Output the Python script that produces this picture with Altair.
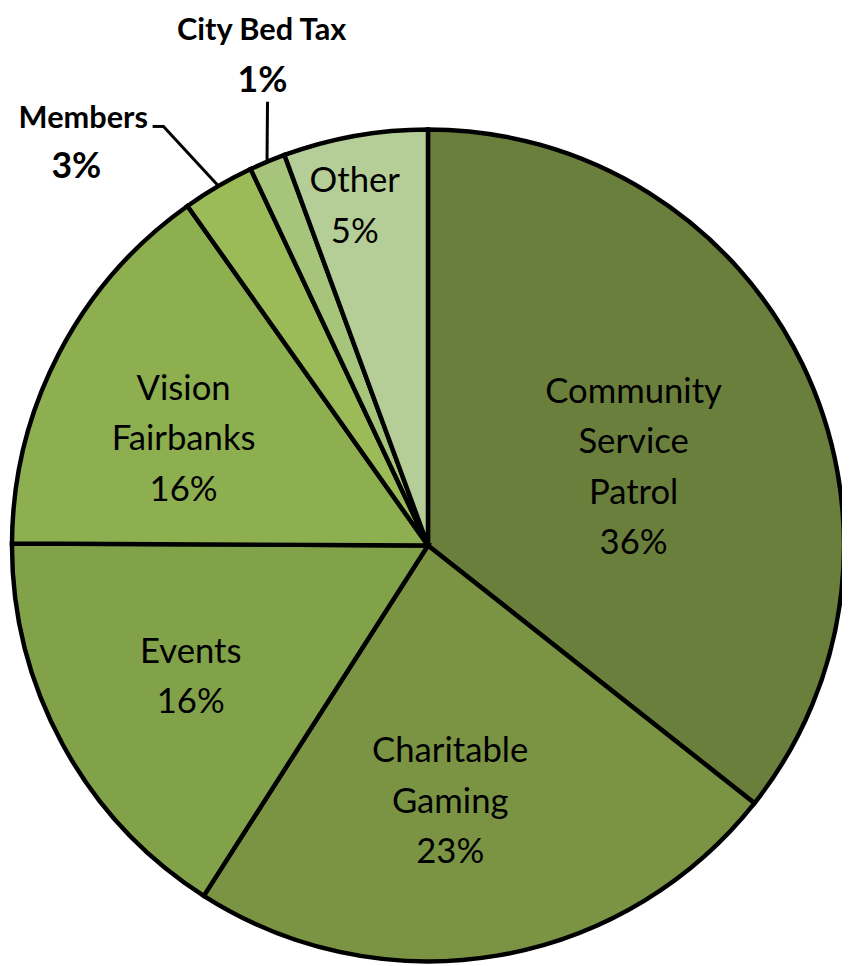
import altair as alt
import pandas as pd

categories = ["Community Service Patrol", "Charitable Gaming", "Events",
              "Vision Fairbanks", "Members", "City Bed Tax", "Other"]
values = [35.6, 23.4, 16.0, 15.1, 2.8, 1.4, 5.6]
pct_labels = ["36%", "23%", "16%", "16%", "3%", "1%", "5%"]
text_labels = ["Community\nService\nPatrol", "Charitable\nGaming", "Events",
               "Vision\nFairbanks", "Members", "City Bed Tax", "Other"]
colors = ["#6b7f3c", "#7a9444", "#82a24a", "#8daf50", "#9bbb59", "#a7c57a", "#b5cd97"]

df = pd.DataFrame({
    "idx": list(range(len(categories))),
    "cat": categories,
    "value": values,
    "label": [t + "\n" + p for t, p in zip(text_labels, pct_labels)],
})

CX, CY, R = 424, 538, 420
FONT = "Lato"
LH = 51

# label placement (radius in px, angle tweak in degrees) for inside labels
inside = {
    "Community Service Patrol": (222, 5.1),
    "Charitable Gaming": (260, 4.6),
    "Events": (274, -0.5),
    "Vision Fairbanks": (269, -4.0),
    "Other": (350, -2.1),
}


def tern(mapping, idx, default):
    expr = str(default)
    for k, v in mapping.items():
        expr = f"datum.cat === '{k}' ? {v[idx]} : ({expr})"
    return expr


base = (
    alt.Chart(df)
    .transform_window(cum="sum(value)", sort=[alt.SortField("idx")], frame=[None, 0])
    .transform_joinaggregate(total="sum(value)")
    .transform_calculate(mid="(datum.cum - datum.value/2)/datum.total*2*PI")
)

pie = alt.Chart(df).mark_arc(outerRadius=R, stroke="black", strokeWidth=4.5).encode(
    theta=alt.Theta("value:Q", stack=True),
    order=alt.Order("idx:Q"),
    color=alt.Color("cat:N", scale=alt.Scale(domain=categories, range=colors), legend=None),
    x=alt.value(CX),
    y=alt.value(CY),
)

inner = (
    base.transform_filter(alt.FieldOneOfPredicate(field="cat", oneOf=list(inside.keys())))
    .transform_calculate(
        r=tern(inside, 0, 250),
        ang="datum.mid + (" + tern(inside, 1, 0) + ")*PI/180",
        n="length(split(datum.label, '\\n'))",
    )
    .transform_calculate(
        px=f"{CX} + datum.r*sin(datum.ang)",
        py=f"{CY} - datum.r*cos(datum.ang) - (datum.n - 1)/2*{LH}",
    )
    .mark_text(font=FONT, fontSize=35, lineBreak="\n", lineHeight=LH,
               align="center", baseline="middle", color="black")
    .encode(x=alt.X("px:Q", scale=None), y=alt.Y("py:Q", scale=None), text="label:N")
)

arcpt = base.transform_calculate(
    px=f"{CX} + {R + 1}*sin(datum.mid)",
    py=f"{CY} - {R + 1}*cos(datum.mid)",
)

members_line = arcpt.transform_filter(alt.datum.cat == "Members").mark_rule(
    color="black", strokeWidth=3).encode(
    x=alt.X("px:Q", scale=None), y=alt.Y("py:Q", scale=None),
    x2=alt.value(157), y2=alt.value(115))
members_tick = arcpt.transform_filter(alt.datum.cat == "Members").mark_rule(
    color="black", strokeWidth=3).encode(
    x=alt.value(146), x2=alt.value(158), y=alt.value(115))
cbt_line = arcpt.transform_filter(alt.datum.cat == "City Bed Tax").mark_rule(
    color="black", strokeWidth=3).encode(
    x=alt.X("px:Q", scale=None), y=alt.Y("py:Q", scale=None),
    x2=alt.value(262), y2=alt.value(90))

split_calc = dict(name="split(datum.label, '\\n')[0]", pct="split(datum.label, '\\n')[1]")

mem = base.transform_filter(alt.datum.cat == "Members").transform_calculate(**split_calc)
mem_text1 = mem.mark_text(font=FONT, fontSize=31, fontWeight="bold",
                          align="center", baseline="alphabetic", color="black").encode(
    x=alt.value(76), y=alt.value(117), text="name:N")
mem_text2 = mem.mark_text(font=FONT, fontSize=36, fontWeight="bold",
                          align="center", baseline="alphabetic", color="black").encode(
    x=alt.value(69), y=alt.value(167), text="pct:N")

cbt = base.transform_filter(alt.datum.cat == "City Bed Tax").transform_calculate(**split_calc)
cbt_text1 = cbt.mark_text(font=FONT, fontSize=31, fontWeight="bold",
                          align="center", baseline="alphabetic", color="black").encode(
    x=alt.value(256), y=alt.value(28), text="name:N")
cbt_text2 = cbt.mark_text(font=FONT, fontSize=36, fontWeight="bold",
                          align="center", baseline="alphabetic", color="black").encode(
    x=alt.value(257), y=alt.value(80), text="pct:N")

chart = alt.layer(
    pie, inner, members_line, members_tick, cbt_line,
    mem_text1, mem_text2, cbt_text1, cbt_text2
).properties(
    width=842, height=956, padding=0, autosize="none"
).configure_view(stroke=None)

chart.save("out.html", embed_options={"renderer": "svg", "actions": False})
